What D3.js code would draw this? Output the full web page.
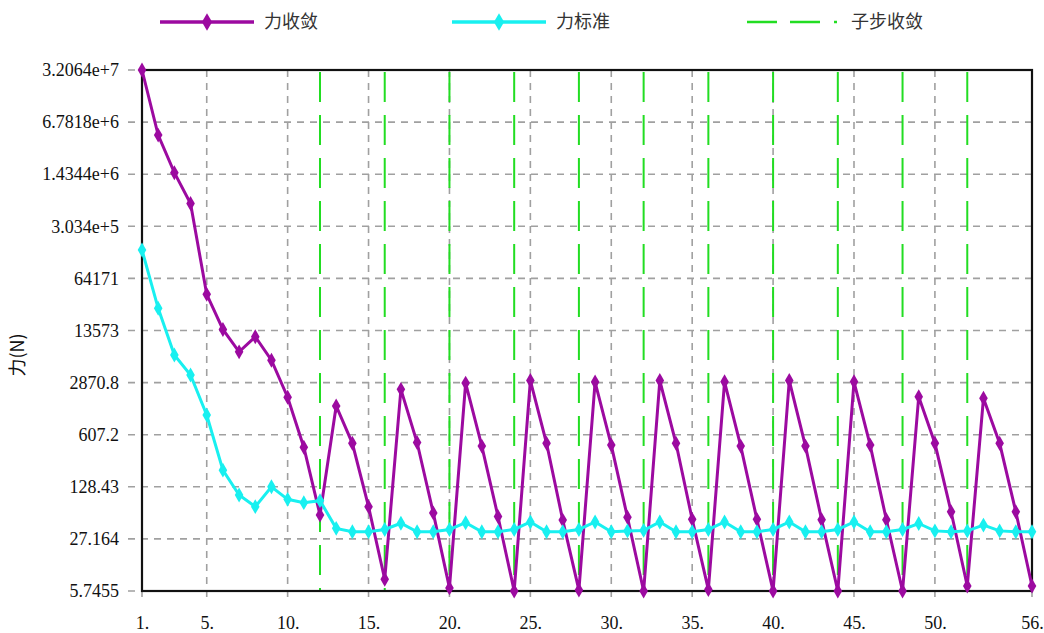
<!DOCTYPE html>
<html>
<head>
<meta charset="utf-8">
<script src="https://cdn.jsdelivr.net/npm/d3@7"></script>
<style>
  body { margin: 0; background: #fff; }
  svg { display: block; }
</style>
</head>
<body>
<svg id="chart" width="1044" height="633"></svg>
<script>
// iterations 1..56
const iterations = d3.range(1, 57);

// 力收敛 (force convergence)
const forceConv = [
  3.2064e7, 4.6e6, 1.5e6, 6.0e5, 3.99e4, 1.4e4, 7180, 11260, 5600, 1858,
  418, 55.5, 1428, 470, 71, 8.15, 2346, 481, 59, 6.3,
  2827, 432, 53, 5.75, 3050, 470, 47.6, 5.9, 2917, 445,
  51.8, 5.75, 3050, 470, 48.7, 6.0, 2940, 432, 48.7, 5.75,
  3050, 432, 48, 5.75, 2940, 445, 48, 5.75, 1888, 470,
  61, 6.67, 1800, 470, 61, 6.67
];

// 力标准 (force criterion)
const forceCrit = [
  1.5e5, 26300, 6540, 3600, 1092, 211, 100.5, 71, 128.4, 88.4,
  80, 85, 37.2, 33.6, 33.6, 36, 43.3, 33.6, 33.6, 36,
  44, 33.6, 33.6, 36, 45, 33.6, 33.6, 36, 45, 33.6,
  34.5, 35, 45, 33.6, 33.6, 36, 45, 33.6, 33.6, 36,
  45, 33.6, 33.6, 36, 45, 33.6, 33.6, 36, 43, 34.5,
  33.6, 34.5, 41, 34.5, 33.6, 33.6
];

// 子步收敛 (substep converged)
const subSteps = [12, 16, 20, 24, 28, 32, 36, 40, 44, 48, 52];

const yTicks = [5.7455, 27.164, 128.43, 607.2, 2870.8, 13573, 64171, 3.034e5, 1.4344e6, 6.7818e6, 3.2064e7];
const yTickLabels = ["5.7455", "27.164", "128.43", "607.2", "2870.8", "13573", "64171", "3.034e+5", "1.4344e+6", "6.7818e+6", "3.2064e+7"];
const xTicks = [1, 5, 10, 15, 20, 25, 30, 35, 40, 45, 50, 56];

const margin = {top: 70, right: 12, bottom: 42, left: 142};
const width = 1044, height = 633;

const svg = d3.select("#chart");

const x = d3.scaleLinear().domain([1, 56]).range([margin.left, width - margin.right]);
const y = d3.scaleLog().domain([5.7455, 3.2064e7]).range([height - margin.bottom, margin.top]);

const purple = "#9c0aa0";
const cyan = "#18f0f0";
const green = "#22dd22";
const serif = "'Liberation Serif', 'Times New Roman', serif";

// grid
const grid = svg.append("g");
grid.selectAll(".hg")
  .data(yTicks)
  .enter().append("line")
  .attr("x1", margin.left - 14)
  .attr("x2", width - margin.right)
  .attr("y1", d => y(d))
  .attr("y2", d => y(d))
  .attr("stroke", "#a0a0a0")
  .attr("stroke-width", 1.6)
  .attr("stroke-dasharray", "7,6");

grid.selectAll(".vg")
  .data(xTicks)
  .enter().append("line")
  .attr("x1", d => x(d))
  .attr("x2", d => x(d))
  .attr("y1", margin.top)
  .attr("y2", height - margin.bottom + 12)
  .attr("stroke", "#a0a0a0")
  .attr("stroke-width", 1.6)
  .attr("stroke-dasharray", "7,6");

// substep lines
svg.append("g").selectAll("line")
  .data(subSteps)
  .enter().append("line")
  .attr("x1", d => x(d))
  .attr("x2", d => x(d))
  .attr("y1", margin.top + 2)
  .attr("y2", height - margin.bottom)
  .attr("stroke", green)
  .attr("stroke-width", 2)
  .attr("stroke-dasharray", "30,13");

// frame
svg.append("rect")
  .attr("x", margin.left)
  .attr("y", margin.top)
  .attr("width", width - margin.right - margin.left)
  .attr("height", height - margin.bottom - margin.top)
  .attr("fill", "none")
  .attr("stroke", "#111")
  .attr("stroke-width", 2.2);

// axes labels
const yAxis = d3.axisLeft(y).tickValues(yTicks)
  .tickFormat((d, i) => yTickLabels[i]).tickSize(0).tickPadding(23);
const gy = svg.append("g")
  .attr("transform", `translate(${margin.left},0)`)
  .call(yAxis);
gy.select(".domain").remove();
gy.selectAll("text")
  .style("font-family", serif)
  .style("font-size", "18px")
  .style("fill", "#111");

const xAxis = d3.axisBottom(x).tickValues(xTicks)
  .tickFormat(d => d + ".").tickSize(0).tickPadding(25);
const gx = svg.append("g")
  .attr("transform", `translate(0,${height - margin.bottom})`)
  .call(xAxis);
gx.select(".domain").remove();
gx.selectAll("text")
  .style("font-family", serif)
  .style("font-size", "18px")
  .style("fill", "#111");

svg.append("text")
  .attr("transform", "translate(24,355) rotate(-90)")
  .attr("text-anchor", "middle")
  .style("font-family", "'Noto Sans CJK SC', sans-serif")
  .style("font-size", "18px")
  .style("fill", "#111")
  .text("力(N)");

// series
const diamond = d3.symbol().type(d3.symbolDiamond).size(64);

function drawSeries(values, color) {
  const pts = iterations.map((it, i) => [it, values[i]]);
  const line = d3.line().x(d => x(d[0])).y(d => y(d[1]));
  svg.append("path")
    .datum(pts)
    .attr("d", line)
    .attr("fill", "none")
    .attr("stroke", color)
    .attr("stroke-width", 3);
  svg.append("g").selectAll("path")
    .data(pts)
    .enter().append("path")
    .attr("d", diamond)
    .attr("transform", d => `translate(${x(d[0])},${y(d[1])})`)
    .attr("fill", color);
}
drawSeries(forceConv, purple);
drawSeries(forceCrit, cyan);

// legend
const legend = svg.append("g")
  .style("font-family", "'Noto Sans CJK SC', sans-serif")
  .style("font-size", "18px");
const legendItems = [
  {name: "力收敛", color: purple, x: 160, marker: true},
  {name: "力标准", color: cyan, x: 452, marker: true},
  {name: "子步收敛", color: green, x: 747, marker: false}
];
legendItems.forEach(item => {
  const g = legend.append("g").attr("transform", `translate(${item.x},22)`);
  if (item.marker) {
    g.append("line").attr("x1", 0).attr("x2", 94).attr("stroke", item.color).attr("stroke-width", 3.5);
    g.append("path").attr("d", d3.symbol().type(d3.symbolDiamond).size(90)).attr("transform", "translate(47,0)").attr("fill", item.color);
    g.append("text").attr("x", 104).attr("dy", "0.35em").style("fill", "#333").text(item.name);
  } else {
    g.append("line").attr("x1", 0).attr("x2", 94).attr("stroke", item.color).attr("stroke-width", 2.5).attr("stroke-dasharray", "30,13,30,14,3,100");
    g.append("text").attr("x", 104).attr("dy", "0.35em").style("fill", "#333").text(item.name);
  }
});
</script>
</body>
</html>
